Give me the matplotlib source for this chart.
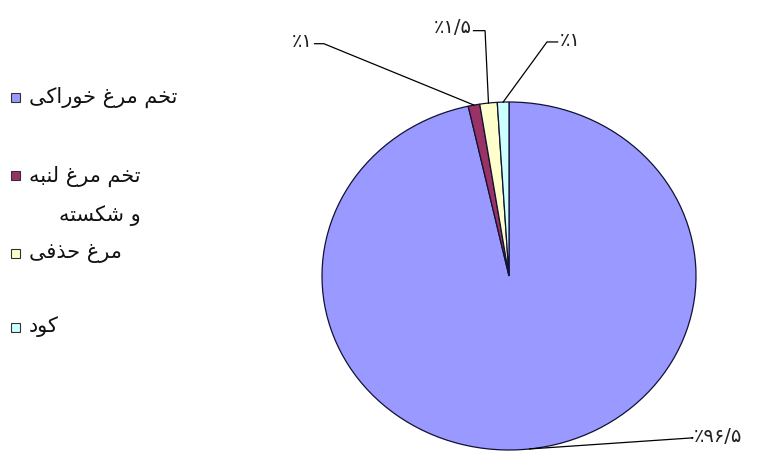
import matplotlib
matplotlib.use("Agg")
import matplotlib.pyplot as plt
from matplotlib.patches import Rectangle
import numpy as np

# ---------------- data ----------------
categories = ["تخم مرغ خوراکی", "تخم مرغ لنبه و شکسته", "مرغ حذفی", "کود"]
values = [96.5, 1.0, 1.5, 1.0]
value_labels = ["٪۹۶/۵", "٪۱", "٪۱/۵", "٪۱"]
colors = ["#9999FF", "#993366", "#FFFFCC", "#CCFFFF"]

# ---------------- simple Persian shaping ----------------
FORMS = {
    "ا": ("\uFE8D", "\uFE8E"),
    "ب": ("\uFE8F", "\uFE90", "\uFE91", "\uFE92"),
    "ت": ("\uFE95", "\uFE96", "\uFE97", "\uFE98"),
    "خ": ("\uFEA5", "\uFEA6", "\uFEA7", "\uFEA8"),
    "ح": ("\uFEA1", "\uFEA2", "\uFEA3", "\uFEA4"),
    "د": ("\uFEA9", "\uFEAA"),
    "ذ": ("\uFEAB", "\uFEAC"),
    "ر": ("\uFEAD", "\uFEAE"),
    "س": ("\uFEB1", "\uFEB2", "\uFEB3", "\uFEB4"),
    "ش": ("\uFEB5", "\uFEB6", "\uFEB7", "\uFEB8"),
    "غ": ("\uFECD", "\uFECE", "\uFECF", "\uFED0"),
    "ف": ("\uFED1", "\uFED2", "\uFED3", "\uFED4"),
    "ل": ("\uFEDD", "\uFEDE", "\uFEDF", "\uFEE0"),
    "م": ("\uFEE1", "\uFEE2", "\uFEE3", "\uFEE4"),
    "ن": ("\uFEE5", "\uFEE6", "\uFEE7", "\uFEE8"),
    "ه": ("\uFEE9", "\uFEEA", "\uFEEB", "\uFEEC"),
    "و": ("\uFEED", "\uFEEE"),
    "ک": ("\uFB8E", "\uFB8F", "\uFB90", "\uFB91"),
    "ی": ("\uFBFC", "\uFBFD", "\uFBFE", "\uFBFF"),
}


def shape(text):
    out = []
    for i, c in enumerate(text):
        f = FORMS.get(c)
        if f is None:
            out.append(c)
            continue
        prev = text[i - 1] if i > 0 else None
        nxt = text[i + 1] if i + 1 < len(text) else None
        jp = prev in FORMS and len(FORMS[prev]) == 4
        jn = nxt in FORMS and len(f) == 4
        if jp and jn:
            g = f[3]
        elif jp:
            g = f[1]
        elif jn:
            g = f[2]
        else:
            g = f[0]
        out.append(g)
    return "".join(out)[::-1]


# ---------------- figure ----------------
W, H = 761, 451
fig = plt.figure(figsize=(W / 100, H / 100), dpi=100)
fig.patch.set_facecolor("white")

cx, cy = 509, 276      # pie center (pixels from top-left)
rx, ry = 187, 174      # pixel radii (slightly elliptical pie)
ax = fig.add_axes([0, 0, 1, 1])
wedges, _ = ax.pie(values, colors=colors, startangle=90, counterclock=False,
                   radius=1, center=(0, 0),
                   wedgeprops=dict(edgecolor="#111133", linewidth=0.9))
ax.set_aspect("auto")
ax.set_xlim(-cx / rx, (W - cx) / rx)
ax.set_ylim(-(H - cy) / ry, cy / ry)
ax.axis("off")

# label placement (data coords): text anchor, elbow point
label_pos = [(0.99, -0.925), (-1.05, 1.345), (-0.20, 1.43), (0.27, 1.351)]
elbow_pos = [(0.985, -0.93), (-0.99, 1.335), (-0.128, 1.41), (0.203, 1.345)]
ha_list = ["left", "right", "right", "left"]

for w, lab, tp, ep, ha in zip(wedges, value_labels, label_pos, elbow_pos, ha_list):
    ang = np.deg2rad((w.theta1 + w.theta2) / 2)
    px, py = np.cos(ang), np.sin(ang)
    xs = [px, ep[0], tp[0] + (-0.01 if ha == "left" else 0.01)]
    ys = [py, ep[1], ep[1]]
    ax.plot(xs, ys, color="black", lw=0.9, solid_joinstyle="miter")
    ax.text(tp[0], tp[1], lab, ha=ha, va="center", fontsize=14,
            family="DejaVu Sans", color="#222222")

# ---------------- legend (manual, RTL text) ----------------
leg_rows = [97, 176, 253, 327]
sq = 9
fs = 15
for cat, col, yrow in zip(categories, colors, leg_rows):
    fig.add_artist(Rectangle((11 / W, 1 - (yrow + sq / 2) / H), sq / W, sq / H,
                             transform=fig.transFigure, facecolor=col,
                             edgecolor="#333333", linewidth=0.8))
    if cat == "تخم مرغ لنبه و شکسته":
        lines = ["تخم مرغ لنبه", "و شکسته"]
    else:
        lines = [cat]
    t = fig.text(29 / W, 1 - yrow / H, shape(lines[0]), ha="left",
                 va="center", fontsize=fs, family="DejaVu Sans",
                 color="#111111")
    if len(lines) > 1:
        fig.canvas.draw()
        bb = t.get_window_extent()
        fig.text(bb.x1 / W, 1 - (yrow + 40) / H, shape(lines[1]), ha="right",
                 va="center", fontsize=fs, family="DejaVu Sans",
                 color="#111111")

fig.savefig("out.png", dpi=100, facecolor="white")
